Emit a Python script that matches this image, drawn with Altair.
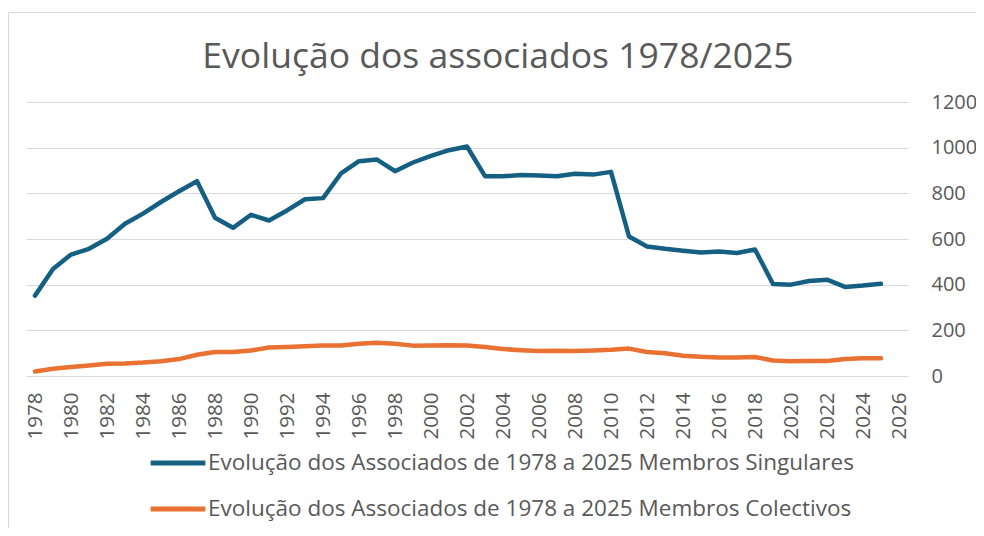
import altair as alt
import pandas as pd

years = list(range(1978, 2026))
singulares = [352, 469, 532, 557, 601, 667, 711, 762, 809, 853,
              693, 649, 706, 681, 725, 774, 779, 887, 941, 948,
              897, 935, 964, 989, 1005, 875, 875, 880, 878, 875,
              886, 882, 894, 611, 567, 557, 549, 541, 545, 539,
              554, 403, 400, 416, 422, 390, 396, 404]
colectivos = [20, 32, 39, 46, 54, 55, 59, 65, 74, 93,
              105, 105, 112, 125, 127, 130, 134, 134, 141, 146,
              141, 133, 134, 135, 134, 127, 118, 113, 109, 111,
              110, 112, 115, 120, 105, 100, 89, 84, 81, 81,
              83, 68, 65, 66, 66, 74, 78, 78]
series_names = ["Evolução dos Associados de 1978 a 2025 Membros Singulares",
                "Evolução dos Associados de 1978 a 2025 Membros Colectivos"]
series_colors = ["#156082", "#E97132"]
x_ticks = list(range(1978, 2027, 2))
y_ticks = [0, 200, 400, 600, 800, 1000, 1200]
title_text = "Evolução dos associados 1978/2025"

df = pd.concat([
    pd.DataFrame({"Ano": years, "Valor": singulares, "Serie": series_names[0]}),
    pd.DataFrame({"Ano": years, "Valor": colectivos, "Serie": series_names[1]}),
])

txt = "#595959"

lines = alt.Chart(df).mark_line(strokeWidth=4.5, strokeCap="round", strokeJoin="round").encode(
    x=alt.X("Ano:Q", scale=alt.Scale(domain=[1977.5, 2026.5], nice=False, zero=False),
            axis=alt.Axis(values=x_ticks, format="d", labelAngle=-90, labelAlign="right",
                          labelBaseline="middle", labelPadding=16, grid=False, domain=False,
                          ticks=False, labelFontSize=20.5, labelFont="Open Sans",
                          labelColor=txt, title=None, labelOverlap=False)),
    y=alt.Y("Valor:Q", scale=alt.Scale(domain=[0, 1200], nice=False),
            axis=alt.Axis(orient="right", values=y_ticks, format="d", grid=True,
                          gridColor="#d9d9d9", gridWidth=1, domain=False, ticks=False,
                          labelPadding=23, labelFontSize=20, labelFont="Open Sans",
                          labelColor=txt, labelAlign="left", title=None)),
    color=alt.Color("Serie:N", scale=alt.Scale(domain=series_names, range=series_colors),
                    legend=alt.Legend(orient="none", legendX=122, legendY=331,
                                      direction="vertical", title=None, symbolType="stroke",
                                      symbolStrokeWidth=5, symbolSize=3000,
                                      labelFont="Open Sans", labelFontSize=22.5, labelLimit=0,
                                      labelColor=txt, rowPadding=4, labelOffset=0)),
)

one = alt.Data(values=[{"a": 1}])
border_left = alt.Chart(one).mark_rule(stroke="#d9d9d9", strokeWidth=1).encode(
    x=alt.value(-17.5), y=alt.value(-89.5), y2=alt.value(700)
)
border_top = alt.Chart(one).mark_rule(stroke="#d9d9d9", strokeWidth=1).encode(
    x=alt.value(-17.5), x2=alt.value(1000), y=alt.value(-89.5)
)

title = alt.Chart(alt.Data(values=[{"t": title_text}])).mark_text(
    font="Open Sans", fontSize=35.5, color=txt, align="center", baseline="alphabetic"
).encode(text="t:N", x=alt.value(472), y=alt.value(-34))

chart = alt.layer(border_left, border_top, title, lines).properties(
    width=882, height=274,
    padding={"left": 18, "top": 94, "right": 68, "bottom": 152},
    autosize=alt.AutoSizeParams(type="none"),
).configure_view(stroke=None)

chart.save("out.html", embed_options={"renderer": "svg", "actions": False})
